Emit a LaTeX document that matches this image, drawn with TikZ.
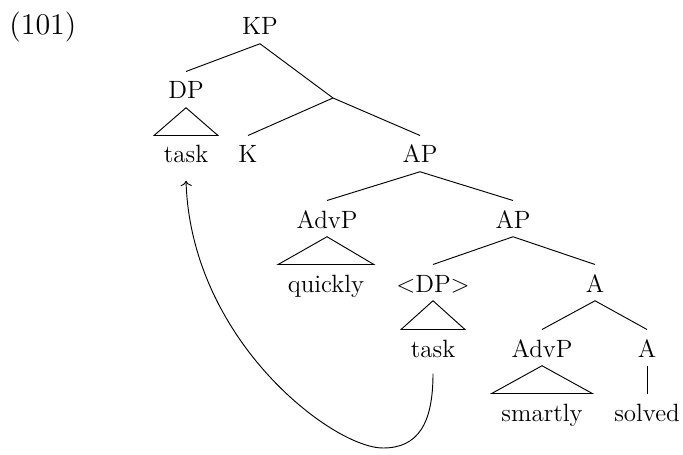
\documentclass[tikz,border=0pt]{standalone}
\usetikzlibrary{arrows.meta}
\begin{document}
\begin{tikzpicture}[x=0.48pt,y=-0.48pt,
  lab/.style={inner xsep=4.5pt,inner ysep=0pt,text height=13pt,text depth=4pt,anchor=base,font=\fontsize{12}{14}\selectfont},
  edge/.style={line width=0.45pt},
  move/.style={line width=0.45pt,->}]
\useasboundingbox (0,0) rectangle (683,455);
\node[anchor=base west,inner sep=0pt,font=\fontsize{14.4}{17}\selectfont] (ex) at (9,35) {(101)};
\node[lab] (KP) at (260,35) {KP};
\node[lab] (DP) at (186,99) {DP};
\coordinate (bar) at (333,98);
\node[lab] (t1) at (186,163) {task};
\node[lab] (K) at (248,163) {K};
\node[lab] (AP1) at (420,163) {AP};
\node[lab] (AdvP1) at (327,228) {AdvP};
\node[lab] (AP2) at (513,228) {AP};
\node[lab] (q) at (326,292) {quickly};
\node[lab] (DP2) at (433,292) {$<$DP$>$};
\node[lab] (A1) at (595,292) {A};
\node[lab] (t2) at (433,357) {task};
\node[lab] (AdvP2) at (542,357) {AdvP};
\node[lab] (A2) at (647,357) {A};
\node[lab] (sm) at (542,421) {smartly};
\node[lab] (so) at (647,421) {solved};
\draw[edge] (KP.south) -- (DP.north);
\draw[edge] (KP.south) -- (bar);
\draw[edge] (bar) -- (K.north);
\draw[edge] (bar) -- (AP1.north);
\draw[edge] (AP1.south) -- (AdvP1.north);
\draw[edge] (AP1.south) -- (AP2.north);
\draw[edge] (AP2.south) -- (DP2.north);
\draw[edge] (AP2.south) -- (A1.north);
\draw[edge] (A1.south) -- (AdvP2.north);
\draw[edge] (A1.south) -- (A2.north);
\draw[edge] (A2.south) -- (so.north);
\draw[edge] (DP.south) -- (t1.north west) -- (t1.north east) -- cycle;
\draw[edge] (AdvP1.south) -- (q.north west) -- (q.north east) -- cycle;
\draw[edge] (DP2.south) -- (t2.north west) -- (t2.north east) -- cycle;
\draw[edge] (AdvP2.south) -- (sm.north west) -- (sm.north east) -- cycle;
\coordinate (bend) at (383,448);
\draw[move] ([yshift=-3.8pt]t2.south) .. controls +(0,50) and +(35,0) .. (bend)
  .. controls +(-50,0) and +(5,160) .. ([yshift=-4.3pt]t1.south);
\end{tikzpicture}
\end{document}
